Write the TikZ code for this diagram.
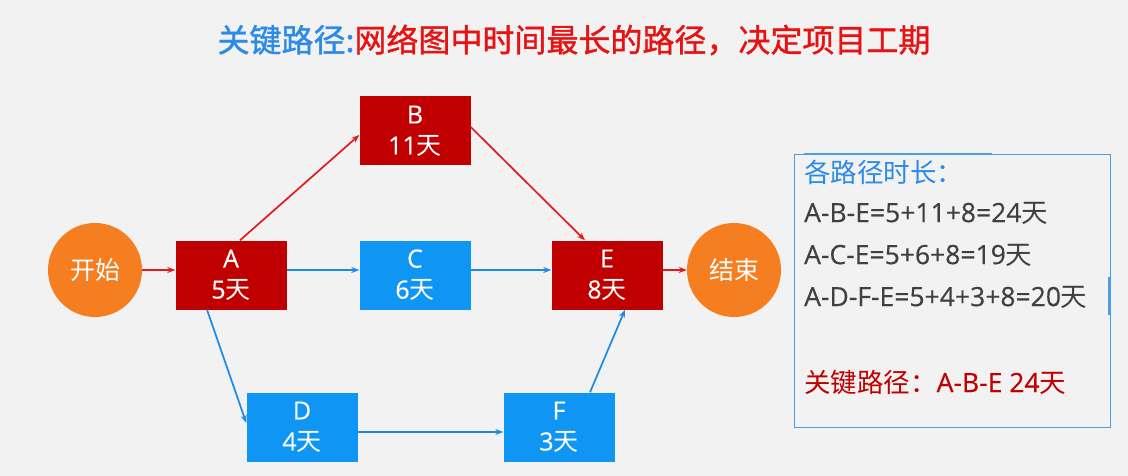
\documentclass[tikz,border=0pt]{standalone}
\usepackage{fontspec}
\setmainfont[FakeBold=0.4]{Open Sans}
\newfontfamily\cjk{Noto Sans CJK SC}
\newfontfamily\cjkttl[FakeBold=1.2]{Noto Sans CJK SC}
\newcommand{\tian}{{\cjk 天}}
\usetikzlibrary{arrows.meta}
\definecolor{bgray}{HTML}{F2F2F2}
\definecolor{crit}{HTML}{C00000}
\definecolor{critarrow}{HTML}{E41A1A}
\definecolor{norm}{HTML}{0F96F5}
\definecolor{normarrow}{HTML}{1E88E8}
\definecolor{ends}{HTML}{F47E20}
\definecolor{ttlblue}{HTML}{2B8BE6}
\definecolor{ttlred}{HTML}{E81212}
\definecolor{txtgray}{HTML}{404040}
\definecolor{boxline}{HTML}{4A9EE8}
\tikzset{
  task/.style={minimum width=111pt, minimum height=69pt, inner sep=0pt,
    text=white, align=center, font=\fontsize{25}{31}\selectfont},
  crittask/.style={task, fill=crit},
  normtask/.style={task, fill=norm},
  endpt/.style={circle, fill=ends, minimum size=94pt, inner sep=0pt,
    text=white, font=\fontsize{25}{28}\selectfont\cjk},
  link/.style={line width=1.7pt, -{Stealth[length=8pt,width=6pt]}},
  critlink/.style={link, draw=critarrow},
  normlink/.style={link, draw=normarrow},
  infoline/.style={anchor=west, inner sep=0pt, font=\fontsize{26.5}{30}\selectfont}
}
\begin{document}
\begin{tikzpicture}[x=1pt,y=-1pt]
  \fill[bgray] (0,0) rectangle (1128,476);
  \useasboundingbox (0,0) rectangle (1128,476);
  % title
  \node (title) at (574,40) {\fontsize{32}{36}\selectfont\cjkttl
    \textcolor{ttlblue}{关键路径:}\textcolor{ttlred}{网络图中时间最长的路径，决定项目工期}};
  % start and end
  \node[endpt] (start) at (95,270) {开始};
  \node[endpt] (finish) at (734,270) {结束};
  % tasks
  \node[crittask] (A) at (231,275) {A\\5\tian};
  \node[crittask] (B) at (415,131) {B\\11\tian};
  \node[normtask] (C) at (415,275) {C\\6\tian};
  \node[crittask] (E) at (607,275) {E\\8\tian};
  \node[normtask] (D) at (302,427) {D\\4\tian};
  \node[normtask] (F) at (559,427) {F\\3\tian};
  % links
  \draw[critlink] (start) -- ([yshift=5pt]A.west);
  \draw[critlink] ([xshift=9pt]A.north) -- ([yshift=-4pt]B.west);
  \draw[normlink] ([yshift=5pt]A.east) -- ([yshift=5pt]C.west);
  \draw[normlink] ([xshift=-24pt]A.south) -- ([yshift=4pt]D.west);
  \draw[critlink] ([yshift=4pt]B.east) -- ([xshift=-22pt]E.north);
  \draw[normlink] ([yshift=5pt]C.east) -- ([yshift=5pt]E.west);
  \draw[normlink] ([yshift=-5pt]D.east) -- ([yshift=-5pt]F.west);
  \draw[normlink] ([xshift=31pt]F.north) -- ([xshift=18pt]E.south);
  \draw[critlink] ([yshift=5pt]E.east) -- (finish);
  % path durations
  \draw[boxline, line width=0.8pt] (794,154) rectangle (1110,427);
  \draw[boxline, line width=2pt] (804,154) -- (992,154);
  \draw[boxline, line width=2pt] (1109,277) -- (1109,315);
  \node[infoline, text=ttlblue] (head) at (804,172) {\cjk 各路径时长：};
  \node[infoline, text=txtgray] (p1) at (804,213) {A-B-E=5+11+8=24\tian};
  \node[infoline, text=txtgray] (p2) at (804,255) {A-C-E=5+6+8=19\tian};
  \node[infoline, text=txtgray] (p3) at (804,297) {A-D-F-E=5+4+3+8=20\tian};
  \node[infoline, text=crit] (crit) at (804,382) {{\cjk 关键路径：}A-B-E 24\tian};
\end{tikzpicture}
\end{document}
